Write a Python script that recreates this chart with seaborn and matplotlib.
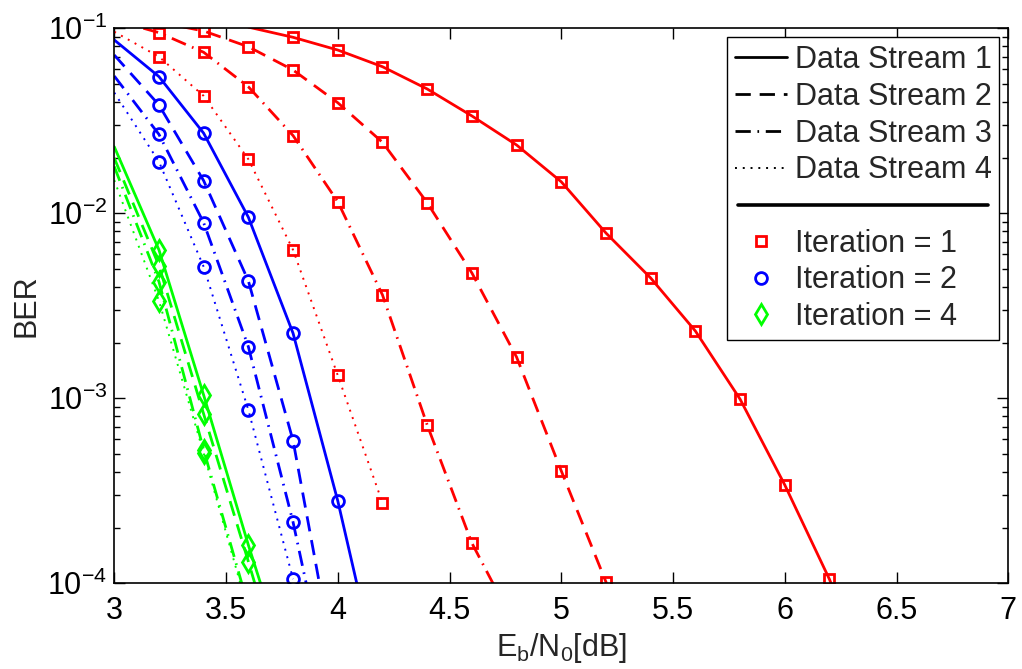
import numpy as np
import pandas as pd
import matplotlib
matplotlib.use("Agg")
import matplotlib.pyplot as plt
import seaborn as sns
from matplotlib.lines import Line2D
from matplotlib.ticker import LogLocator, NullFormatter, FixedLocator

nan = np.nan
ebn0 = [3.0, 3.2, 3.4, 3.6, 3.8, 4.0, 4.2, 4.4, 4.6, 4.8, 5.0, 5.2, 5.4, 5.6, 5.8, 6.0, 6.2, 6.4]

# Iteration = 1 (red squares)
ber_it1_s1 = [nan, nan, nan, 0.1015, 0.0894, 0.0763, 0.0620, 0.0470, 0.0336, 0.0234, 0.0148,
              0.00782, 0.00447, 0.00231, 0.000989, 0.000340, 0.000105, 2.5e-5]
ber_it1_s2 = [nan, 0.108, 0.0967, 0.0795, 0.0595, 0.0396, 0.0242, 0.01141, 0.00476, 0.00167,
              0.000405, 0.0001016, 2.0e-5, nan, nan, nan, nan, nan]
ber_it1_s3 = [0.111, 0.0947, 0.0742, 0.0483, 0.0263, 0.01155, 0.00362, 0.000718, 0.000165,
              5.7e-5, nan, nan, nan, nan, nan, nan, nan, nan]
ber_it1_s4 = [0.0958, 0.0702, 0.0431, 0.0196, 0.00634, 0.00133, 0.000272, nan, nan, nan,
              nan, nan, nan, nan, nan, nan, nan, nan]

# Iteration = 2 (blue circles)
ber_it2_s1 = [0.0865, 0.0548, 0.0271, 0.00952, 0.002246, 0.000279, 2.5e-5] + [nan] * 11
ber_it2_s2 = [0.0717, 0.0385, 0.0150, 0.00431, 0.000590, 2.9e-5] + [nan] * 12
ber_it2_s3 = [0.0552, 0.0267, 0.00889, 0.00190, 0.000214, 1.6e-5] + [nan] * 12
ber_it2_s4 = [0.0449, 0.0190, 0.00514, 0.000865, 0.0001054] + [nan] * 13

# Iteration = 4 (green diamonds)
ber_it4_s1 = [0.0229, 0.00634, 0.00104, 0.000161, 2.8e-5] + [nan] * 13
ber_it4_s2 = [0.0199, 0.00521, 0.000822, 0.000131, 2.0e-5] + [nan] * 13
ber_it4_s3 = [0.0179, 0.00427, 0.000526, 7.5e-5] + [nan] * 14
ber_it4_s4 = [0.0151, 0.00336, 0.000505, 7.0e-5] + [nan] * 14

stream_labels = ["Data Stream 1", "Data Stream 2", "Data Stream 3", "Data Stream 4"]
iter_labels = ["Iteration = 1", "Iteration = 2", "Iteration = 4"]
xtick_vals = [3, 3.5, 4, 4.5, 5, 5.5, 6, 6.5, 7]
xtick_labels = ["3", "3.5", "4", "4.5", "5", "5.5", "6", "6.5", "7"]
marker_start = 3.2

sns.set_style("ticks")
plt.rcParams["font.family"] = ["Liberation Sans", "DejaVu Sans"]
plt.rcParams["mathtext.fontset"] = "custom"
plt.rcParams["mathtext.rm"] = "Liberation Sans"
plt.rcParams["mathtext.it"] = "Liberation Sans"
plt.rcParams["mathtext.default"] = "regular"

fig = plt.figure(figsize=(10.22, 6.69), dpi=100)
ax = fig.add_axes([0.1118, 0.1281, 0.8748, 0.8296])

styles = [
    dict(linestyle="-", linewidth=2.0),
    dict(linestyle=(0, (5.5, 3.2)), linewidth=2.0),
    dict(linestyle=(0, (5.5, 2.4, 0.6, 2.4)), linewidth=2.0),
    dict(linestyle=(0, (1.0, 3.0)), linewidth=1.4),
]
groups = [
    ("#ff0000", "s", 7.2, [ber_it1_s1, ber_it1_s2, ber_it1_s3, ber_it1_s4]),
    ("#0000ff", "o", 8.5, [ber_it2_s1, ber_it2_s2, ber_it2_s3, ber_it2_s4]),
    ("#00ff00", "d", 10.5, [ber_it4_s1, ber_it4_s2, ber_it4_s3, ber_it4_s4]),
]

ylo, yhi = 1e-4, 1e-1
for color, mk, ms, series in groups:
    for st, ber in zip(styles, series):
        df = pd.DataFrame({"x": ebn0, "y": ber}).dropna()
        sns.lineplot(data=df, x="x", y="y", ax=ax, color=color, sort=False,
                     estimator=None, legend=False, **st)
        m = df[(df.x >= marker_start - 1e-9) & (df.y >= ylo) & (df.y <= yhi)]
        ax.plot(m.x, m.y, linestyle="none", marker=mk, markersize=ms,
                markerfacecolor="none", markeredgecolor=color, markeredgewidth=2.0)

ax.set_yscale("log")
ax.set_xlim(3, 7)
ax.set_ylim(ylo, yhi)
ax.xaxis.set_major_locator(FixedLocator(xtick_vals))
ax.set_xticklabels(xtick_labels)
ax.yaxis.set_major_locator(LogLocator(base=10, numticks=10))
ax.yaxis.set_minor_locator(LogLocator(base=10, subs=np.arange(2, 10), numticks=20))
ax.yaxis.set_minor_formatter(NullFormatter())
ax.tick_params(which="both", direction="in", top=True, right=True, width=1.0,
               colors="black", labelsize=22)
ax.tick_params(which="major", length=8)
ax.tick_params(axis="x", which="major", pad=9)
ax.tick_params(axis="y", which="major", pad=5)
ax.tick_params(which="minor", length=4)
for sp in ax.spines.values():
    sp.set_linewidth(1.2)
    sp.set_color("black")

ax.set_xlabel("E$_b$/N$_0$[dB]", fontsize=22, labelpad=4)
ax.set_ylabel("BER", fontsize=22, labelpad=4)

# legend
handles = [Line2D([], [], color="black", **st) for st in styles]
handles.append(Line2D([], [], color="none"))
for color, mk, ms, _ in groups:
    handles.append(Line2D([], [], color=color, linestyle="none", marker=mk, markersize=ms,
                          markerfacecolor="none", markeredgewidth=2.0))
labels = stream_labels + [" "] + iter_labels
leg = ax.legend(handles, labels, loc="upper right", fontsize=22, frameon=True,
                fancybox=False, edgecolor="black", framealpha=1, borderaxespad=0.3,
                handlelength=1.7, handletextpad=0.25, labelspacing=0.22,
                borderpad=0.25)
leg.get_frame().set_linewidth(1.0)

fig.canvas.draw()
renderer = fig.canvas.get_renderer()
texts = leg.get_texts()
bb_leg = leg.get_window_extent(renderer)
t4 = texts[3].get_window_extent(renderer)
t5 = texts[5].get_window_extent(renderer)
ysep = (t4.y0 + t5.y1) / 2.0 + 2
inv = fig.transFigure.inverted()
(x0f, yf), = inv.transform([(bb_leg.x0 + 11, ysep)])
(x1f, _), = inv.transform([(bb_leg.x1 - 11, ysep)])
fig.add_artist(Line2D([x0f, x1f], [yf, yf], color="black", linewidth=2.6,
                      transform=fig.transFigure))

fig.savefig("out.png", dpi=100)
